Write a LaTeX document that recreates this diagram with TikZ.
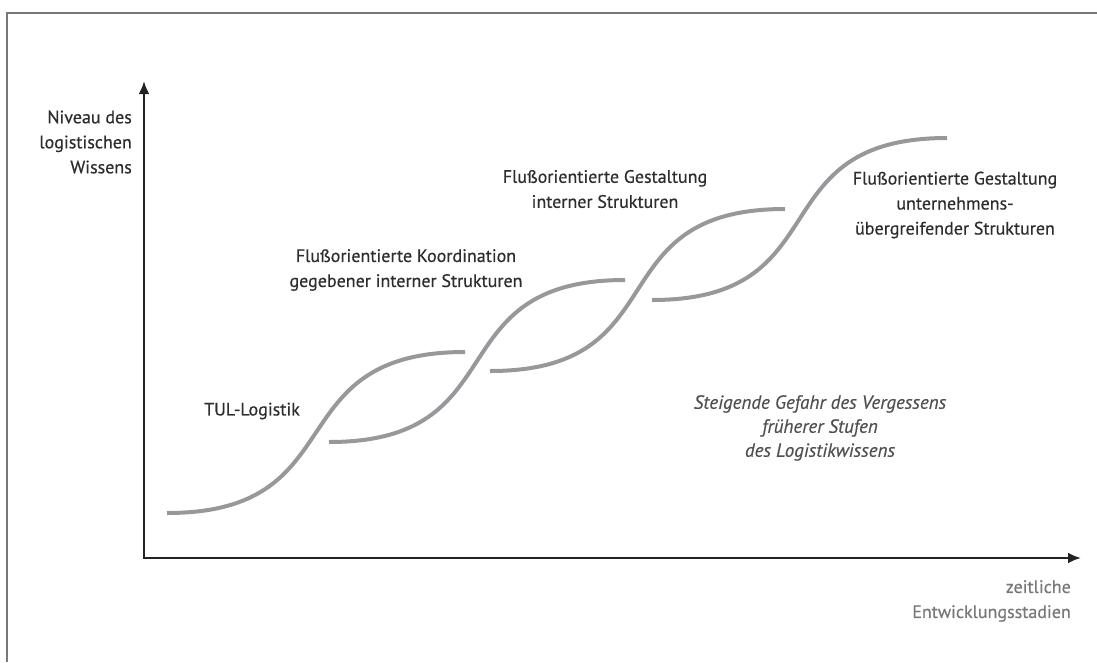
\documentclass[tikz,border=0pt]{standalone}
\usepackage{fontspec}
\setmainfont{PT Sans}
\newfontfamily\lblfont{PT Sans}[FakeBold=0.5]
\newfontfamily\ilblfont{PT Sans Italic}[FakeBold=0.4]
\usetikzlibrary{arrows.meta}
\definecolor{framegray}{RGB}{120,120,120}
\definecolor{axisdark}{RGB}{35,35,35}
\definecolor{curvegray}{RGB}{152,152,155}
\definecolor{textdark}{RGB}{45,45,45}
\definecolor{textmid}{RGB}{80,80,80}
\definecolor{textlight}{RGB}{120,120,120}
\begin{document}
\begin{tikzpicture}[x=1pt,y=-1pt,
  frameline/.style={draw=framegray,line width=1.5pt},
  axisline/.style={draw=axisdark,line width=2.5pt,-{Latex[length=13pt,width=11pt]}},
  scurve/.style={draw=curvegray,line width=4pt},
  lbl/.style={text=textdark,font=\lblfont\fontsize{18}{25}\selectfont,align=center,inner sep=0pt},
  ilbl/.style={text=textmid,font=\ilblfont\fontsize{19}{24}\selectfont,align=center,inner sep=0pt},
  axlbl/.style={text=textdark,font=\lblfont\fontsize{18}{25}\selectfont,align=right,inner sep=0pt},
  xlbl/.style={text=textlight,font=\lblfont\fontsize{18}{25}\selectfont,align=right,inner sep=0pt}]
\useasboundingbox (0,0) rectangle (1097,662);
% frame
\draw[frameline] (7,662) -- (7,13) -- (1097,13);
% axes
\coordinate (O) at (144,558);
\coordinate (ytop) at (144,81);
\coordinate (xend) at (1081,558);
\draw[axisline] (O) -- (ytop);
\draw[axisline] ([xshift=-1.25pt]O) -- (xend);
% S-curves
\draw[scurve] (167,513) .. controls (357,513) and (275,352) .. (465,352);
\draw[scurve] (329,442) .. controls (519,442) and (435,280) .. (625,280);
\draw[scurve] (490,371) .. controls (680,371) and (595,209) .. (785,209);
\draw[scurve] (652,300) .. controls (842,300) and (757,138) .. (947,138);
% labels
\node[axlbl,anchor=east] (ylab) at (132,142) {Niveau des\\logistischen\\Wissens};
\node[xlbl,anchor=east] (xlab) at (1071,601) {zeitliche\\Entwicklungsstadien};
\node[lbl] (tul) at (252,411) {TUL-Logistik};
\node[lbl] (koord) at (406,270) {Flußorientierte Koordination\\gegebener interner Strukturen};
\node[lbl] (gint) at (605,189) {Flußorientierte Gestaltung\\interner Strukturen};
\node[lbl] (gueb) at (955,205) {Flußorientierte Gestaltung\\unternehmens-\\übergreifender Strukturen};
\node[ilbl] (gefahr) at (820,428) {Steigende Gefahr des Vergessens\\früherer Stufen\\des Logistikwissens};
\end{tikzpicture}
\end{document}
